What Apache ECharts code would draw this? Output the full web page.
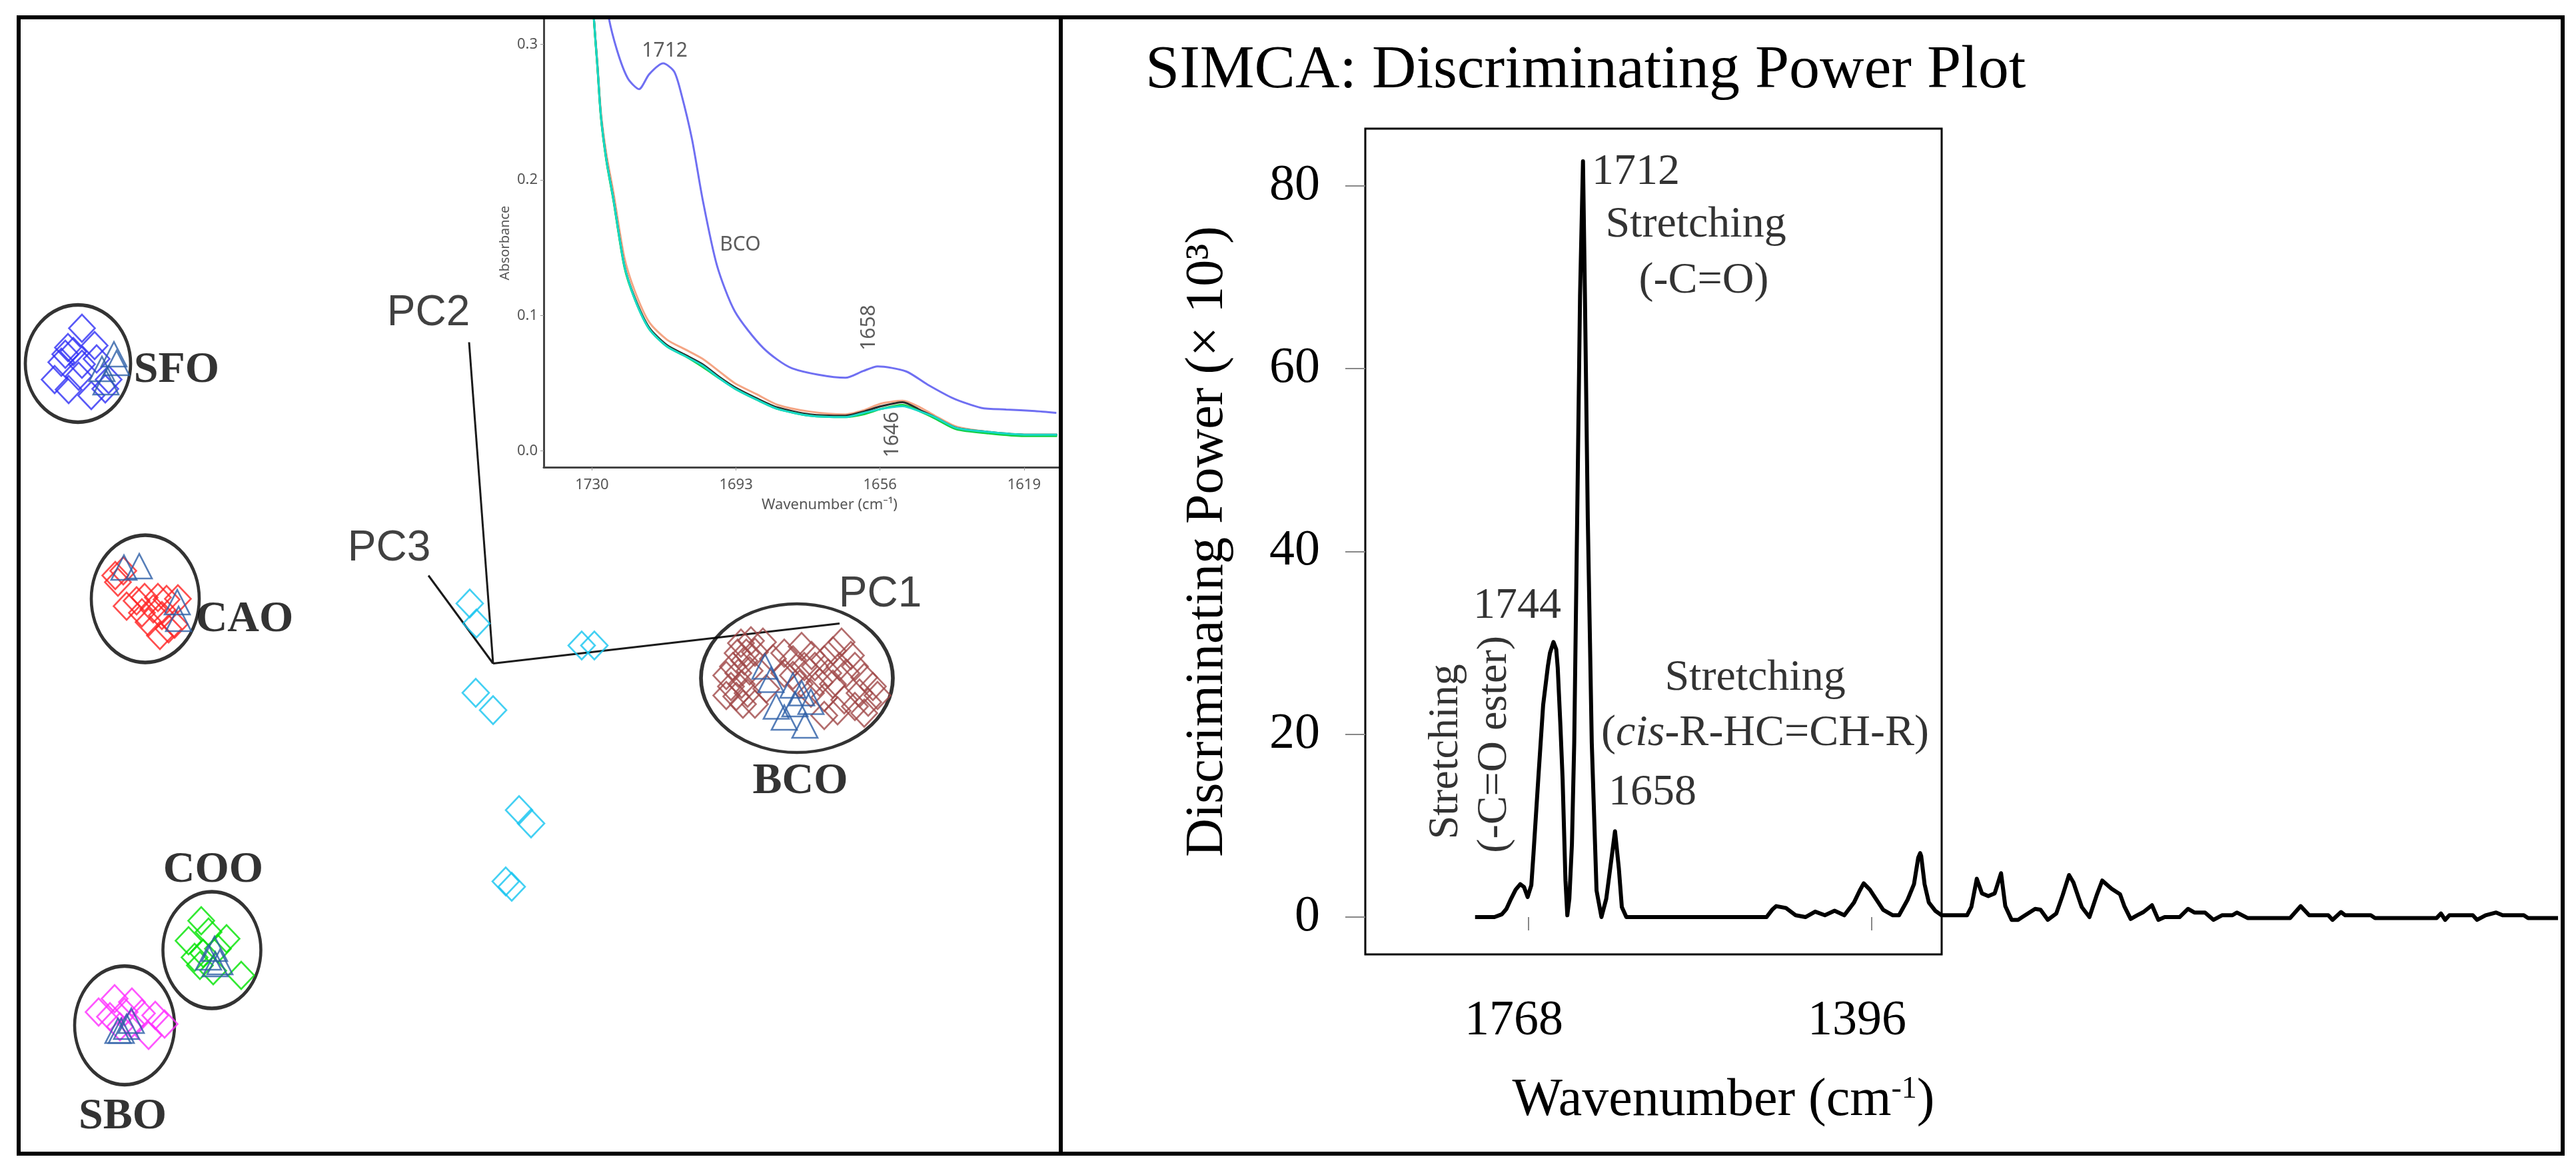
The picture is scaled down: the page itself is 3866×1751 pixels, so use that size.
<!DOCTYPE html>
<html><head><meta charset="utf-8">
<script src="https://cdn.jsdelivr.net/npm/echarts@6/dist/echarts.min.js"></script>
<style>html,body{margin:0;padding:0;background:#fff}#c{width:3866px;height:1751px}</style>
</head><body><div id="c"></div>
<script>
// ---------- Left panel: PCA score plot (score units) ----------
const pcAxisNames = ['PC1', 'PC2', 'PC3'];
const pcAxisEnds = [[5.20, 0.60], [-0.36, 4.82], [-0.97, 1.32]];
const pcLabelPos = [[5.81, 1.03], [-0.97, 5.25], [-1.56, 1.72]];

const clusterNames = ['SFO', 'CAO', 'BCO', 'COO', 'SBO'];
const clusterCenters = [[-6.23, 4.50], [-5.22, 0.97], [4.56, -0.22], [-4.22, -4.30], [-5.53, -5.43]];
const clusterLabelPos = [[-4.75, 4.40], [-3.73, 0.66], [4.61, -1.77], [-4.20, -3.10], [-5.56, -6.80]];

const sfoDiamonds = [[-6.17,5.03],[-6.38,4.74],[-6.42,4.64],[-5.98,4.77],[-6.48,4.52],[-6.17,4.49],[-5.95,4.57],[-6.58,4.26],[-6.22,4.31],[-6.37,4.11],[-6.03,4.02],[-5.82,4.12],[-5.77,4.26],[-6.30,4.68]];
const sfoTriangles = [[-5.69,4.64],[-5.87,4.42],[-5.81,4.22],[-5.65,4.51]];
const caoDiamonds = [[-5.67,1.32],[-5.55,1.39],[-5.63,1.22],[-5.50,0.86],[-5.35,0.94],[-5.23,0.99],[-5.03,0.99],[-4.90,0.96],[-4.73,0.97],[-5.27,0.76],[-5.17,0.62],[-5.10,0.82],[-4.97,0.72],[-5.00,0.42],[-4.87,0.52],[-4.78,0.59]];
const caoTriangles = [[-5.54,1.44],[-5.31,1.46],[-4.74,0.92],[-4.72,0.67]];
const bcoDiamonds = [[3.72,0.305],[3.87,0.34],[4.05,0.32],[3.67,0.155],[3.80,0.155],[3.93,0.17],[3.77,0.04],[3.60,-0.045],[3.50,-0.18],[3.68,-0.145],[3.85,-0.11],[3.57,-0.345],[3.73,-0.31],[3.50,-0.48],[3.65,-0.495],[3.82,-0.445],[3.93,-0.61],[3.75,-0.61],[4.20,0.07],[4.37,0.155],[4.50,0.055],[4.63,0.255],[4.78,0.12],[4.67,-0.045],[4.83,-0.045],[4.97,0.055],[5.10,0.19],[5.23,0.32],[5.37,0.12],[5.20,-0.045],[5.03,-0.145],[4.90,-0.28],[5.10,-0.31],[5.30,-0.145],[5.43,-0.045],[5.57,-0.21],[5.70,-0.345],[5.50,-0.445],[5.63,-0.58],[5.77,-0.48],[5.43,-0.645],[5.27,-0.545],[4.97,-0.51],[4.77,-0.445],[4.60,-0.31],[4.37,-0.145],[4.50,-0.18],[5.57,-0.745],[4.10,-0.38],[4.97,-0.78],[5.17,-0.71]];
const bcoTriangles = [[4.08,-0.045],[4.17,-0.245],[4.50,-0.33],[4.63,-0.445],[4.77,-0.575],[4.53,-0.61],[4.37,-0.81],[4.68,-0.93],[4.25,-0.645]];
const cooDiamonds = [[-4.38,-3.86],[-4.57,-4.16],[-4.27,-4.03],[-4.00,-4.13],[-4.48,-4.41],[-4.40,-4.53],[-4.13,-4.28],[-3.78,-4.68],[-4.20,-4.61],[-4.35,-4.35]];
const cooTriangles = [[-4.18,-4.28],[-4.27,-4.41],[-4.10,-4.48],[-4.17,-4.51]];
const sboDiamonds = [[-5.92,-5.23],[-5.68,-5.03],[-5.42,-5.08],[-5.75,-5.30],[-5.53,-5.23],[-5.27,-5.25],[-5.07,-5.28],[-4.93,-5.41],[-5.17,-5.58],[-5.43,-5.41],[-5.60,-5.45]];
const sboTriangles = [[-5.43,-5.36],[-5.58,-5.51],[-5.50,-5.45],[-5.63,-5.51]];
const otherDiamonds = [[-0.35,0.90],[-0.25,0.60],[1.33,0.27],[1.52,0.27],[-0.26,-0.44],[0.00,-0.70],[0.39,-2.20],[0.57,-2.40],[0.19,-3.27],[0.28,-3.35]];

// ---------- Inset: absorbance spectra ----------
const insetWavenumber = [1731.5,1729.6,1728.6,1727.7,1726.3,1724.5,1721.7,1719.0,1715.3,1710.7,1706.1,1701.6,1697.0,1693.3,1687.8,1682.3,1674.0,1664.9,1660.3,1655.7,1650.2,1645.6,1641.9,1636.4,1628.1,1619.0,1610.5];
const insetBlack  = [0.42,0.323,0.284,0.247,0.215,0.186,0.137,0.113,0.091,0.078,0.071,0.064,0.054,0.047,0.039,0.032,0.027,0.026,0.029,0.033,0.036,0.030,0.025,0.017,0.014,0.012,0.012];
const insetOrange = [0.42,0.323,0.286,0.250,0.219,0.191,0.143,0.118,0.095,0.082,0.075,0.068,0.058,0.050,0.042,0.034,0.029,0.027,0.030,0.035,0.037,0.032,0.026,0.018,0.014,0.012,0.012];
const insetGreen  = [0.42,0.322,0.283,0.246,0.214,0.185,0.136,0.112,0.090,0.077,0.070,0.062,0.053,0.046,0.038,0.031,0.026,0.025,0.027,0.031,0.034,0.029,0.024,0.016,0.013,0.011,0.011];
const insetCyan   = [0.42,0.323,0.284,0.247,0.215,0.186,0.137,0.112,0.090,0.077,0.070,0.063,0.053,0.046,0.038,0.031,0.026,0.025,0.028,0.031,0.033,0.029,0.025,0.017,0.014,0.012,0.012];
const bcoWavenumber = [1727.5,1725.9,1723.6,1720.8,1717.9,1715.3,1711.7,1708.9,1707.1,1704.3,1701.6,1697.9,1693.3,1686.0,1678.6,1664.9,1660.3,1656.6,1649.3,1643.8,1637.3,1630.0,1623.6,1616.2,1610.7];
const bcoAbsorbance = [0.36,0.323,0.296,0.275,0.267,0.278,0.286,0.280,0.264,0.230,0.186,0.137,0.103,0.076,0.061,0.054,0.059,0.0624,0.0587,0.049,0.039,0.0318,0.0306,0.0294,0.0281];
const insetXTicks = [1730, 1693, 1656, 1619];
const insetYTicks = [0, 0.1, 0.2, 0.3];
const insetNotes = ['1712', 'BCO', '1658', '1646'];
const insetNotePos = [[1711.3, 0.295], [1691.9, 0.152], [1658.8, 0.091], [1652.8, 0.012]];

// ---------- Right panel: SIMCA discriminating power ----------
const dpWavenumber = [1826,1805,1797,1792,1787,1782,1777,1773,1769,1765,1762.7,1757.5,1752.2,1747,1744.8,1741,1738,1736.4,1733.5,1731.1,1728,1726,1723.8,1721,1718.5,1715.3,1712.2,1709.0,1706.9,1703.8,1699.5,1694.3,1689.0,1683.8,1678.5,1674.3,1670.1,1666.9,1662,1652,1589,1510,1504,1499.5,1489,1478.4,1467.9,1457.3,1446.8,1436.3,1425.7,1415.2,1409,1404.7,1398,1394.1,1383.6,1373.1,1366.4,1357.1,1350.2,1345.6,1343.5,1342.4,1338.7,1334.1,1327.2,1320.3,1292.7,1288.0,1282.1,1276.5,1269.6,1262.7,1255.8,1251.2,1244.3,1237.4,1232.8,1218.9,1213,1205.1,1195.9,1189.0,1182.1,1177.4,1168.3,1160.0,1152.1,1146.1,1136.0,1126.8,1122.2,1115.3,1108.3,1101.5,1092.2,1085.3,1078.4,1062.3,1053.1,1046.2,1034.7,1025.5,1016.3,1005,1000.2,988.6,942.5,931.0,921.8,901.1,896.5,887.3,882.7,855.0,850.4,783.6,778.9,774.4,769.8,744.4,739.8,730.6,719.1,712.1,689.1,684.5,652];
const dpValue = [0,0,0.3,0.9,2.0,3.0,3.6,3.3,2.2,3.5,6.9,15.1,23.2,27.5,28.9,30.1,29.3,27.3,21,15.1,4,0.2,2.0,8,19.1,43.6,68.0,82.7,68.0,43.6,19.1,2.9,0,2.0,6.1,9.4,5.3,1.1,0,0,0,0,0.8,1.2,1.0,0.2,0,0.6,0.2,0.7,0.2,1.6,2.9,3.7,3.0,2.4,0.8,0.2,0.2,1.9,3.6,6.5,7.0,6.7,3.6,1.6,0.7,0.2,0.2,1.1,4.2,2.6,2.3,2.6,4.8,1.2,-0.3,-0.3,0,0.9,0.8,-0.3,0.4,2.4,4.6,3.8,1.1,0,2.4,4.0,3.1,2.5,1.2,-0.2,0.2,0.55,1.3,-0.3,0,0,0.9,0.5,0.5,-0.3,0.2,0.2,0.5,-0.1,-0.1,1.2,0.2,0.2,-0.3,0.55,0.2,0.2,-0.1,-0.1,0.4,-0.3,0.2,0.2,-0.3,0.2,0.5,0.2,0.2,-0.1,-0.1];
const dpXTicks = [1768, 1396];
const dpYTicks = [0, 20, 40, 60, 80];
const dpNotes = ['1712', 'Stretching', '(-C=O)', '1744', 'Stretching', '(-C=O ester)', 'Stretching', '({i|cis}-R-HC=CH-R)', '1658'];
const dpNotePos = [[1651.7, 81.5], [1586.7, 75.7], [1578.1, 69.6], [1780.3, 34.0], [1857.6, 18.1], [1804.9, 18.9], [1522.4, 26.1], [1511.6, 20.1], [1633.7, 13.6]];
const dpNoteRotate = [0, 0, 0, 0, 90, 90, 0, 0, 0];
const dpNoteSize = [66, 66, 66, 66, 64, 64, 66, 66, 66];

// ---------- build ----------
const SERIF = '"Liberation Serif", "Times New Roman", serif';
const SANS = '"Liberation Sans", Arial, sans-serif';
const INSET = '"Noto Sans", "DejaVu Sans", sans-serif';
const zip = (xs, ys) => xs.map((x, i) => [x, ys[i]]);
const plain = v => String(v);

function markers(name, data, symbol, color, size, z) {
  return {
    name, type: 'scatter', xAxisIndex: 0, yAxisIndex: 0, data, symbol, symbolSize: size, z,
    itemStyle: { color: 'rgba(0,0,0,0)', borderColor: color, borderWidth: 2.6 },
    silent: true
  };
}

const series = [];
pcAxisEnds.forEach((e, i) => series.push({
  name: pcAxisNames[i] + ' axis', type: 'line', xAxisIndex: 0, yAxisIndex: 0,
  data: [[0, 0], e], symbol: 'none', lineStyle: { color: '#1a1a1a', width: 3 }, z: 2
}));
series.push({
  name: 'axis labels', type: 'scatter', xAxisIndex: 0, yAxisIndex: 0, symbolSize: 0, z: 5,
  data: pcLabelPos.map((p, i) => ({ value: p, name: pcAxisNames[i] })),
  label: { show: true, position: 'inside', formatter: '{b}', fontFamily: SANS, fontSize: 64, color: '#111' }
});
const ellipseSizes = [[158, 176], [162, 191], [288, 223], [147, 175], [150, 178]];
series.push({
  name: 'class ellipses', type: 'scatter', xAxisIndex: 0, yAxisIndex: 0, symbol: 'circle', z: 3,
  data: clusterCenters.map((c, i) => ({ value: c, symbolSize: ellipseSizes[i] })),
  itemStyle: { color: 'rgba(0,0,0,0)', borderColor: '#000', borderWidth: 5 }
});
series.push(markers('SFO', sfoDiamonds, 'diamond', '#3030f5', [39, 41], 4));
series.push(markers('CAO', caoDiamonds, 'diamond', '#ff2222', [39, 41], 4));
series.push(markers('BCO', bcoDiamonds, 'diamond', '#a04848', [39, 41], 4));
series.push(markers('COO', cooDiamonds, 'diamond', '#00e400', [39, 41], 4));
series.push(markers('SBO', sboDiamonds, 'diamond', '#ff2cff', [39, 41], 4));
series.push(markers('other', otherDiamonds, 'diamond', '#14c4f0', [40, 42], 4));
[sfoTriangles, caoTriangles, bcoTriangles, cooTriangles, sboTriangles].forEach((t, i) =>
  series.push(markers(clusterNames[i] + ' test', t, 'triangle', '#2c5ea6', [38, 37], 5)));
series.push({
  name: 'class labels', type: 'scatter', xAxisIndex: 0, yAxisIndex: 0, symbolSize: 0, z: 6,
  data: clusterLabelPos.map((p, i) => ({ value: p, name: clusterNames[i] })),
  label: { show: true, position: 'inside', formatter: '{b}', fontFamily: SERIF, fontWeight: 'bold', fontSize: 66, color: '#000' }
});

// inset lines
const insetLine = (name, xs, ys, color, z) => ({
  name, type: 'line', xAxisIndex: 1, yAxisIndex: 1, data: zip(xs, ys), symbol: 'none',
  smooth: 0.25, lineStyle: { color, width: 3 }, z, clip: true
});
series.push(insetLine('orange', insetWavenumber, insetOrange, '#f5a584', 10));
series.push(insetLine('black', insetWavenumber, insetBlack, '#2a2a2a', 11));
series.push(insetLine('green', insetWavenumber, insetGreen, '#10d040', 12));
series.push(insetLine('cyan', insetWavenumber, insetCyan, '#19d8c8', 13));
series.push(insetLine('BCO spectrum', bcoWavenumber, bcoAbsorbance, '#6f6ff2', 14));
series.push({
  name: 'inset notes', type: 'scatter', xAxisIndex: 1, yAxisIndex: 1, symbolSize: 0, z: 15,
  data: insetNotePos.map((p, i) => ({ value: p, name: insetNotes[i], label: { rotate: i >= 2 ? 90 : 0 } })),
  label: { show: true, position: 'inside', formatter: '{b}', fontFamily: INSET, fontSize: 30, color: '#333' }
});

// discriminating power
series.push({
  name: 'Discriminating power', type: 'line', xAxisIndex: 3, yAxisIndex: 3,
  data: zip(dpWavenumber, dpValue), symbol: 'none', smooth: false,
  lineStyle: { color: '#000', width: 6, join: 'round' }, z: 20
});
series.push({
  name: 'dp notes', type: 'scatter', xAxisIndex: 3, yAxisIndex: 3, symbolSize: 0, z: 21,
  data: dpNotePos.map((p, i) => ({ value: p, name: dpNotes[i], label: { rotate: dpNoteRotate[i], fontSize: dpNoteSize[i] } })),
  label: {
    show: true, position: 'inside', formatter: '{b}', fontFamily: SERIF, color: '#000',
    rich: { i: { fontFamily: SERIF, fontStyle: 'italic', fontSize: 66, color: '#000' } }
  }
});

const hidden = { show: false };
const option = {
  animation: false,
  backgroundColor: '#fff',
  title: {
    text: 'SIMCA: Discriminating Power Plot', left: 1714, top: 56,
    textStyle: { fontFamily: SERIF, fontSize: 92, fontWeight: 'normal', color: '#000' }
  },
  grid: [
    { left: 29, top: 28, width: 1563, height: 1703, show: false },
    { left: 816, top: 28, width: 774, height: 673, show: true, backgroundColor: '#fff', borderWidth: 0 },
    { left: 2049, top: 193, width: 865, height: 1239, show: true, borderColor: '#000', borderWidth: 3, backgroundColor: 'rgba(0,0,0,0)' },
    { left: 2049, top: 193, width: 1796, height: 1239, show: false }
  ],
  xAxis: [
    { type: 'value', gridIndex: 0, min: -7.11, max: 8.52, axisLine: hidden, axisTick: hidden, axisLabel: hidden, splitLine: hidden },
    {
      type: 'value', gridIndex: 1, min: 1609.9, max: 1742.4, inverse: true,
      name: 'Wavenumber (cm⁻¹)', nameLocation: 'middle', nameGap: 46,
      nameTextStyle: { fontFamily: INSET, fontSize: 22, color: '#555', padding: [0, 0, 0, 84] },
      axisLine: { show: true, onZero: false, lineStyle: { color: '#444', width: 3 } },
      axisTick: { show: true, customValues: insetXTicks, length: 5, lineStyle: { color: '#999' } },
      axisLabel: { customValues: insetXTicks, fontFamily: INSET, fontSize: 22, color: '#555', margin: 16, formatter: plain },
      splitLine: hidden
    },
    {
      type: 'value', gridIndex: 2, min: 1320.2, max: 1945, inverse: true,
      name: 'Wavenumber (cm{s|-1})', nameLocation: 'middle', nameGap: 180,
      nameTextStyle: {
        fontFamily: SERIF, fontSize: 80, color: '#000', padding: [0, 0, 0, 210],
        rich: { s: { fontFamily: SERIF, fontSize: 46, color: '#000', verticalAlign: 'top' } }
      },
      axisLine: hidden,
      axisTick: { show: true, customValues: dpXTicks, length: 20, lineStyle: { color: '#888', width: 2 } },
      axisLabel: { customValues: dpXTicks, fontFamily: SERIF, fontSize: 74, color: '#000', margin: 64, padding: [0, 44, 0, 0], formatter: plain },
      splitLine: hidden
    },
    { type: 'value', gridIndex: 3, min: 647.7, max: 1945, inverse: true, axisLine: hidden, axisTick: hidden, axisLabel: hidden, splitLine: hidden }
  ],
  yAxis: [
    { type: 'value', gridIndex: 0, min: -7.355, max: 9.675, axisLine: hidden, axisTick: hidden, axisLabel: hidden, splitLine: hidden },
    {
      type: 'value', gridIndex: 1, min: -0.012, max: 0.319,
      name: 'Absorbance', nameLocation: 'middle', nameGap: 48, nameRotate: 90,
      nameTextStyle: { fontFamily: INSET, fontSize: 20, color: '#555' },
      axisLine: { show: true, onZero: false, lineStyle: { color: '#444', width: 3 } },
      axisTick: { show: true, customValues: insetYTicks, length: 5, lineStyle: { color: '#999' } },
      axisLabel: { customValues: insetYTicks, fontFamily: INSET, fontSize: 22, color: '#555', margin: 9, formatter: v => v.toFixed(1) },
      splitLine: hidden
    },
    {
      type: 'value', gridIndex: 2, min: -4.08, max: 86.27,
      name: 'Discriminating Power (× 10³)', nameLocation: 'middle', nameGap: 196, nameRotate: 90,
      nameTextStyle: { fontFamily: SERIF, fontSize: 80, color: '#000' },
      axisLine: hidden,
      axisTick: { show: true, customValues: dpYTicks, length: 30, lineStyle: { color: '#888', width: 2 } },
      axisLabel: { customValues: dpYTicks, fontFamily: SERIF, fontSize: 76, color: '#000', margin: 68, formatter: plain },
      splitLine: hidden
    },
    { type: 'value', gridIndex: 3, min: -4.08, max: 86.27, axisLine: hidden, axisTick: hidden, axisLabel: hidden, splitLine: hidden }
  ],
  graphic: [
    { type: 'rect', shape: { x: 28, y: 26, width: 3818, height: 1705 }, style: { fill: 'none', stroke: '#000', lineWidth: 6 }, z: 100 },
    { type: 'line', shape: { x1: 1592, y1: 26, x2: 1592, y2: 1731 }, style: { stroke: '#000', lineWidth: 6 }, z: 100 }
  ],
  series
};
const chart = echarts.init(document.getElementById('c'), null, { renderer: 'canvas', width: 3866, height: 1751 });
chart.setOption(option);
</script></body></html>
